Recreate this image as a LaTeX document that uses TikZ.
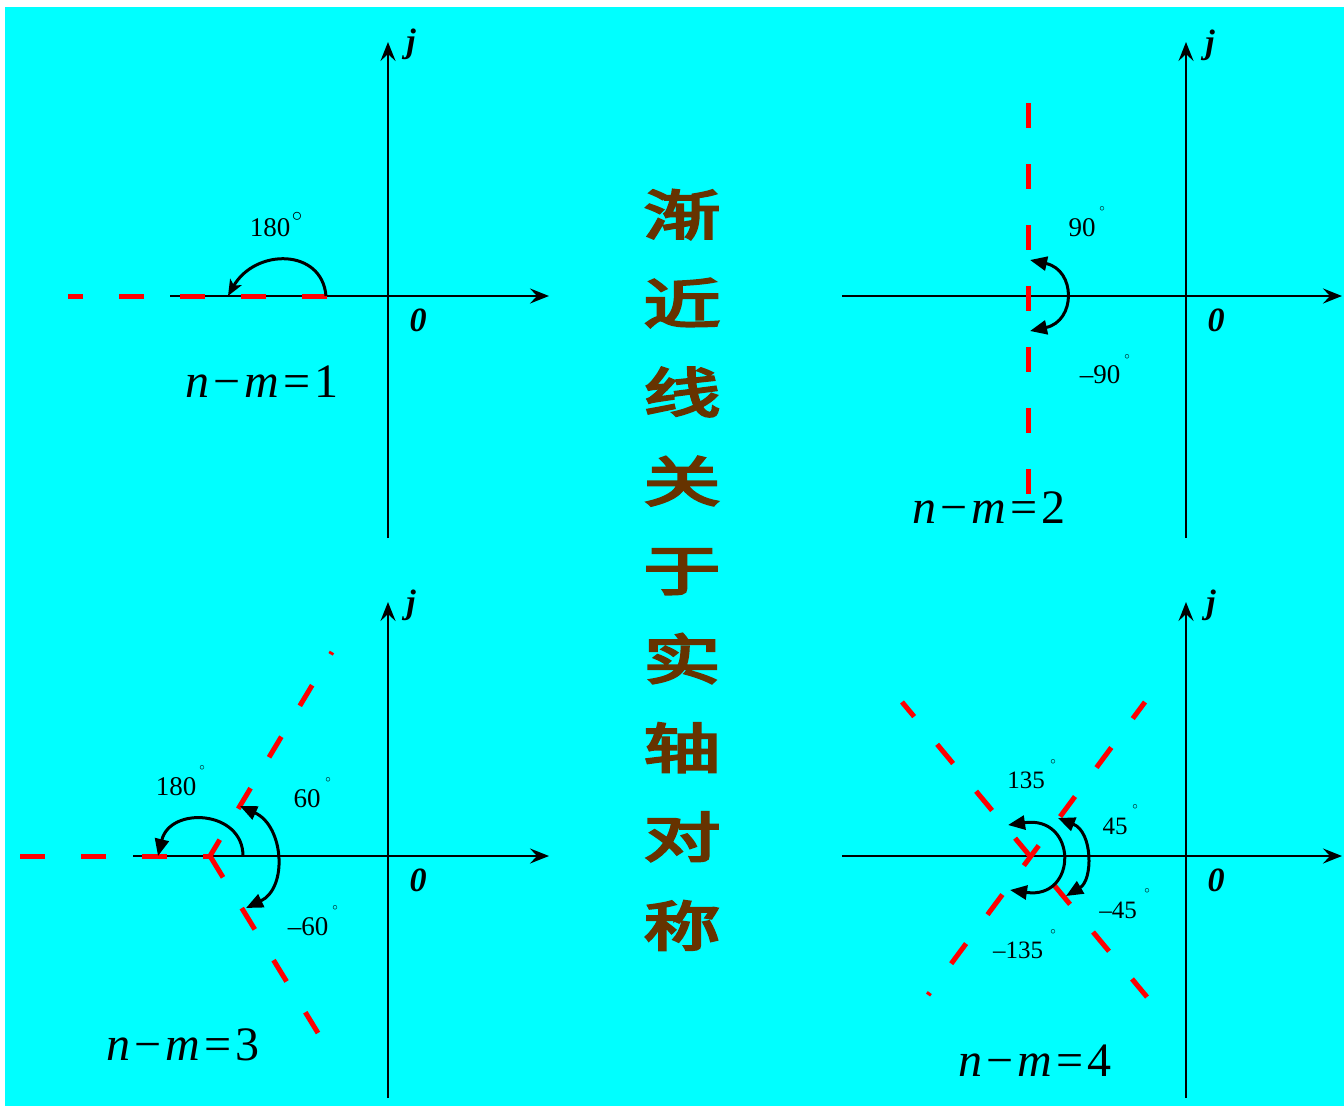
\documentclass[tikz,border=0pt]{standalone}
\usepackage{fontspec}
\setmainfont{Liberation Serif}
\newfontfamily\cjk{Noto Sans CJK SC}[FakeBold=4]
\usetikzlibrary{arrows.meta}
\definecolor{bgcyan}{RGB}{0,255,255}
\definecolor{hanbrown}{RGB}{102,51,0}
\definecolor{asred}{RGB}{255,0,0}
\begin{document}
\begin{tikzpicture}[x=1pt,y=-1pt,
  axis/.style={line width=2.5pt,-{Stealth[length=19pt,width=15pt,inset=7pt]}},
  asym/.style={draw=asred,line width=5pt,dash pattern=on 25pt off 36pt},
  dblarc/.style={line width=3pt,{Triangle[length=17pt,width=14pt]}-{Triangle[length=17pt,width=14pt]}},
  sglarc/.style={line width=3pt,-{Triangle[length=17pt,width=14pt]}},
  axlab/.style={font=\fontsize{34}{34}\selectfont\bfseries\itshape,inner sep=0},
  anglab/.style={font=\fontsize{27}{27}\selectfont,inner sep=0},
  anglabs/.style={font=\fontsize{25}{25}\selectfont,inner sep=0},
  deg/.style={font=\fontsize{11}{11}\selectfont,inner sep=0},
  eqlab/.style={font=\fontsize{48}{48}\selectfont,inner sep=0,anchor=base}
]
\useasboundingbox (0,0) rectangle (1344,1106);
\fill[white] (0,0) rectangle (1344,1106);
\fill[bgcyan] (5,7) rectangle (1344,1106);

% ---------- panel 1 ----------
\coordinate (a1l) at (170,296); \coordinate (a1r) at (549,296);
\coordinate (a1b) at (388,538); \coordinate (a1t) at (388,42);
\draw[axis] (a1l) -- (a1r);
\draw[axis] (a1b) -- (a1t);
\coordinate (c1s) at (327,296); \coordinate (c1e) at (68,296);
\draw[asym] (c1s) -- (c1e);
\coordinate (r1s) at (326,296); \coordinate (r1e) at (228,296);
\draw[line width=3pt,-{Stealth[length=16pt,width=13pt,inset=4pt]}] (r1s) .. controls (322,248) and (255,248) .. (r1e);
\node[anglab] (l1a) at (270,228) {180};
\node[font=\fontsize{20}{20}\selectfont,inner sep=0] (d1a) at (297,217) {$\circ$};
\node[axlab] (j1) at (411,44) {j};
\node[axlab] (o1) at (418,320) {0};
\node[eqlab] (e1) at (262,397) {\textit{n}\hspace{4pt}−\hspace{4pt}\textit{m}\hspace{4pt}=\hspace{4pt}1};

% ---------- panel 2 ----------
\coordinate (a2l) at (842,296); \coordinate (a2r) at (1342,296);
\coordinate (a2b) at (1186,538); \coordinate (a2t) at (1186,42);
\draw[axis] (a2l) -- (a2r);
\draw[axis] (a2b) -- (a2t);
\coordinate (c2s) at (1028,103); \coordinate (c2e) at (1028,494);
\draw[asym] (c2s) -- (c2e);
\coordinate (r2s) at (1030,260); \coordinate (r2e) at (1030,331);
\draw[dblarc] (r2s) .. controls (1076,270) and (1076,321) .. (r2e);
\node[anglab] (l2a) at (1082,228) {90};
\node[deg] (d2a) at (1102,209) {$\circ$};
\node[anglab] (l2b) at (1100,375) {–90};
\node[deg] (d2b) at (1127,357) {$\circ$};
\node[axlab] (j2) at (1210,45) {j};
\node[axlab] (o2) at (1216,320) {0};
\node[eqlab] (e2) at (989,523) {\textit{n}\hspace{4pt}−\hspace{4pt}\textit{m}\hspace{4pt}=\hspace{4pt}2};

% ---------- panel 3 ----------
\coordinate (a3l) at (133,856); \coordinate (a3r) at (549,856);
\coordinate (a3b) at (388,1098); \coordinate (a3t) at (388,602);
\draw[axis] (a3l) -- (a3r);
\draw[axis] (a3b) -- (a3t);
\coordinate (c3) at (210,856);
\coordinate (c3u) at (332,652); \coordinate (c3d) at (318,1033); \coordinate (c3h) at (20,856);
\draw[asym,dash pattern=on 24pt off 36pt,dash phase=5pt] (c3) -- (c3u);
\draw[asym] (c3) -- (c3d);
\draw[asym,dash phase=18pt] (c3) -- (c3h);
\coordinate (r3s) at (243,856); \coordinate (r3e) at (158,856);
\draw[sglarc] (r3s) .. controls (243,810) and (170,806) .. (r3e);
\coordinate (r3a) at (240,806); \coordinate (r3b) at (246,908);
\draw[dblarc] (r3a) .. controls (284,826) and (288,888) .. (r3b);
\node[anglab] (l3a) at (176,787) {180};
\node[deg] (d3a) at (202,768) {$\circ$};
\node[anglab] (l3b) at (307,799) {60};
\node[deg] (d3b) at (328,780) {$\circ$};
\node[anglab] (l3c) at (308,927) {–60};
\node[deg] (d3c) at (335,908) {$\circ$};
\node[axlab] (j3) at (411,605) {j};
\node[axlab] (o3) at (418,880) {0};
\node[eqlab] (e3) at (183,1060) {\textit{n}\hspace{4pt}−\hspace{4pt}\textit{m}\hspace{4pt}=\hspace{4pt}3};

% ---------- panel 4 ----------
\coordinate (a4l) at (842,856); \coordinate (a4r) at (1342,856);
\coordinate (a4b) at (1186,1098); \coordinate (a4t) at (1186,602);
\draw[axis] (a4l) -- (a4r);
\draw[axis] (a4b) -- (a4t);
\coordinate (c4ul) at (902,702); \coordinate (c4dr) at (1147,997);
\coordinate (c4dl) at (928,995); \coordinate (c4ur) at (1145,702);
\draw[asym,dash phase=6pt] (c4ul) -- (c4dr);
\draw[asym,dash phase=22pt] (c4dl) -- (c4ur);
\coordinate (r4a) at (1008,825); \coordinate (r4b) at (1010,890);
\draw[dblarc] (r4a) .. controls (1078,815) and (1078,900) .. (r4b);
\coordinate (r4c) at (1058,818); \coordinate (r4d) at (1066,896);
\draw[dblarc] (r4c) .. controls (1093,832) and (1093,880) .. (r4d);
\node[anglabs] (l4a) at (1026,780) {135};
\node[deg] (d4a) at (1053,762) {$\circ$};
\node[anglabs] (l4b) at (1115,826) {45};
\node[deg] (d4b) at (1135,807) {$\circ$};
\node[anglabs] (l4c) at (1118,910) {–45};
\node[deg] (d4c) at (1147,891) {$\circ$};
\node[anglabs] (l4d) at (1018,950) {–135};
\node[deg] (d4d) at (1053,932) {$\circ$};
\node[axlab] (j4) at (1211,605) {j};
\node[axlab] (o4) at (1216,880) {0};
\node[eqlab] (e4) at (1035,1076) {\textit{n}\hspace{4pt}−\hspace{4pt}\textit{m}\hspace{4pt}=\hspace{4pt}4};

% ---------- title ----------
\begin{scope}[shift={(682,570)}]
\node[text=hanbrown,align=center,inner sep=0,yscale=0.7,transform shape,
      font=\cjk\fontsize{77}{127}\selectfont] (title) at (0,0)
  {渐\\近\\线\\关\\于\\实\\轴\\对\\称};
\end{scope}
\end{tikzpicture}
\end{document}
